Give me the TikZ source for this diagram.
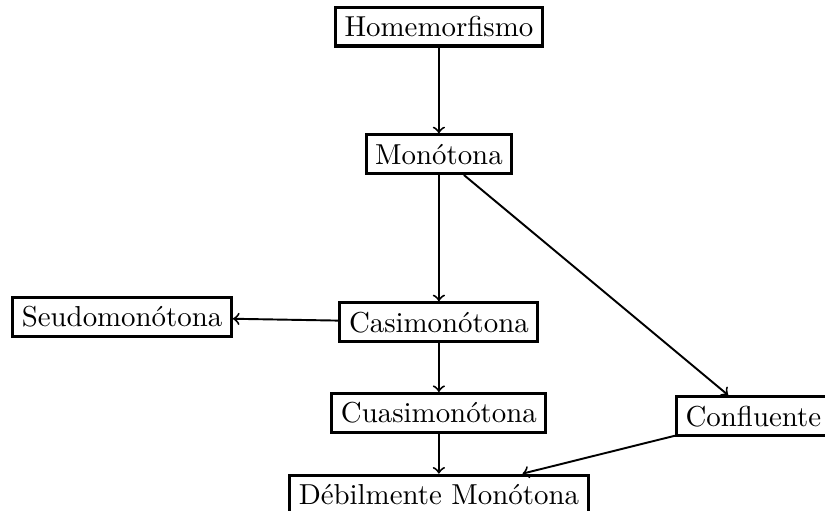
\documentclass[tikz,border=0pt]{standalone}
\usepackage{fontspec}
\usepackage{tikz}
\usetikzlibrary{positioning}
\tikzstyle{block} = [rectangle, draw=black, line width=1.1pt, text centered, inner sep=3.3pt]
\tikzstyle{arrow} = [line width=0.7pt,->]
\tikzstyle{every node}=[font=\fontsize{10.5pt}{12.5pt}\selectfont]

\begin{document}
\begin{tikzpicture}[node distance=2cm]
		\useasboundingbox (-5.61,1.97) rectangle (4.935,-4.56);
		\node (mono) [block] {Monótona};
		\node (home) [block, above of=mono, yshift=-0.37cm] {Homemorfismo};
		\node (casi) [block, below of=mono, yshift=-0.15cm] {Casimonótona};
		\node (seudo) [block, left of=casi, xshift=-2.05cm, yshift=0.07cm] {Seudomonótona};
		\node (cuasi) [block, below of=casi, yshift=0.84cm] {Cuasimonótona};
		\node (debil) [block, below of=cuasi, yshift=0.96cm] {Débilmente Monótona};
		\node (conf) [block, right of=cuasi, xshift=2.02cm, yshift=-0.04cm] {Confluente};
		%flechas
		\draw [arrow](home) -- (mono);
		\draw [arrow](mono) -- (casi);
		\draw [arrow](mono) -- (conf);
		\draw [arrow](casi) -- (seudo);
		\draw [arrow](casi) -- (cuasi);
		\draw [arrow](cuasi) -- (debil);
		\draw [arrow](conf) -- (debil);
	\end{tikzpicture}
\end{document}
